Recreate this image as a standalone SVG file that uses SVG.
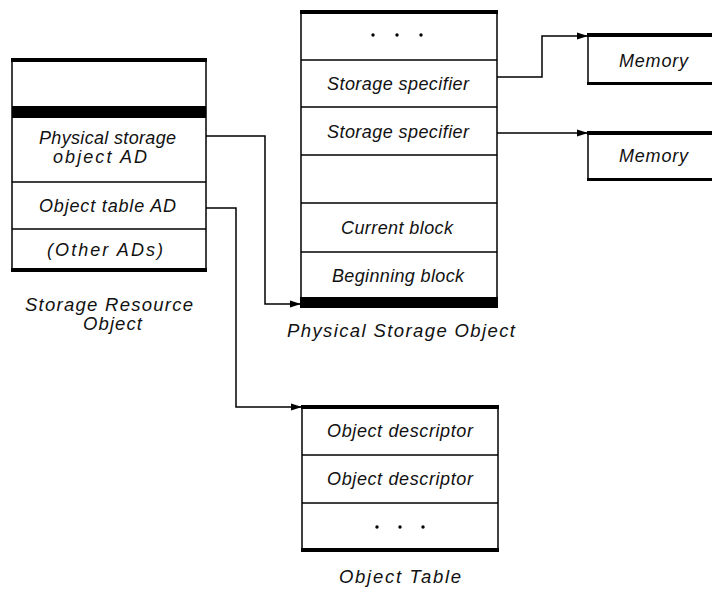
<svg xmlns="http://www.w3.org/2000/svg" width="712" height="589" viewBox="0 0 712 589">
<style>
.box{fill:#fff;stroke:#000;stroke-width:1.5}
.ln{stroke:#000;stroke-width:1.5;fill:none}
.bar{fill:#000}
.t{font-family:"Liberation Sans",Arial,sans-serif;font-style:italic;font-size:18px;fill:#111}
.lbl{font-family:"Liberation Sans",Arial,sans-serif;font-style:italic;font-size:18.5px;fill:#111}
.conn{stroke:#000;stroke-width:1.5;fill:none;marker-end:url(#arr)}
</style>
<defs>
<marker id="arr" markerUnits="userSpaceOnUse" markerWidth="11" markerHeight="8" refX="11" refY="4" orient="auto">
<path d="M0,0.5 L11,4 L0,7.5 z" fill="#000"/>
</marker>
</defs>
<rect width="712" height="589" fill="#fff"/>

<g id="storage-resource-object">
<rect class="box" x="12" y="60" width="194" height="210"/>
<rect class="bar" x="11" y="58" width="196" height="4"/>
<rect class="bar" x="12" y="106" width="194" height="12"/>
<line class="ln" x1="12" y1="182" x2="206" y2="182"/>
<line class="ln" x1="12" y1="229" x2="206" y2="229"/>
<rect class="bar" x="11" y="268" width="196" height="4"/>
<text class="t" x="39" y="144" textLength="137" lengthAdjust="spacing">Physical storage</text>
<text class="t" x="53" y="163" textLength="94" lengthAdjust="spacing">object AD</text>
<text class="t" x="39" y="212" textLength="137" lengthAdjust="spacing">Object table AD</text>
<text class="t" x="47" y="256" textLength="116" lengthAdjust="spacing">(Other ADs)</text>
<text class="lbl" x="25" y="311" textLength="168" lengthAdjust="spacing">Storage Resource</text>
<text class="lbl" x="83" y="330" textLength="59" lengthAdjust="spacing">Object</text>
</g>

<g id="physical-storage-object">
<rect class="box" x="301" y="12" width="196" height="292"/>
<rect class="bar" x="300" y="10" width="198" height="4"/>
<line class="ln" x1="301" y1="60" x2="497" y2="60"/>
<line class="ln" x1="301" y1="107" x2="497" y2="107"/>
<line class="ln" x1="301" y1="155" x2="497" y2="155"/>
<line class="ln" x1="301" y1="203" x2="497" y2="203"/>
<line class="ln" x1="301" y1="252" x2="497" y2="252"/>
<rect class="bar" x="300" y="297" width="198" height="11"/>
<circle cx="373" cy="35" r="1.7" fill="#000"/>
<circle cx="397" cy="35" r="1.7" fill="#000"/>
<circle cx="421" cy="35" r="1.7" fill="#000"/>
<text class="t" x="327" y="90" textLength="142" lengthAdjust="spacing">Storage specifier</text>
<text class="t" x="327" y="138" textLength="142" lengthAdjust="spacing">Storage specifier</text>
<text class="t" x="341" y="234" textLength="112" lengthAdjust="spacing">Current block</text>
<text class="t" x="332" y="282" textLength="132" lengthAdjust="spacing">Beginning block</text>
<text class="lbl" x="287" y="337" textLength="228" lengthAdjust="spacing">Physical Storage Object</text>
</g>

<g id="memory-1">
<line class="ln" x1="588" y1="35" x2="588" y2="84"/>
<rect class="bar" x="587" y="33" width="130" height="4"/>
<rect class="bar" x="587" y="82" width="130" height="3"/>
<text class="t" x="619" y="67" textLength="69" lengthAdjust="spacing">Memory</text>
</g>

<g id="memory-2">
<line class="ln" x1="588" y1="133" x2="588" y2="180"/>
<rect class="bar" x="587" y="131" width="130" height="4"/>
<rect class="bar" x="587" y="178" width="130" height="3"/>
<text class="t" x="619" y="162" textLength="69" lengthAdjust="spacing">Memory</text>
</g>

<g id="object-table">
<rect class="box" x="302" y="407" width="196" height="143"/>
<rect class="bar" x="301" y="405" width="198" height="4"/>
<line class="ln" x1="302" y1="455" x2="498" y2="455"/>
<line class="ln" x1="302" y1="503" x2="498" y2="503"/>
<rect class="bar" x="301" y="548" width="198" height="4"/>
<text class="t" x="327" y="437" textLength="146" lengthAdjust="spacing">Object descriptor</text>
<text class="t" x="327" y="485" textLength="146" lengthAdjust="spacing">Object descriptor</text>
<circle cx="377" cy="527" r="1.7" fill="#000"/>
<circle cx="400" cy="527" r="1.7" fill="#000"/>
<circle cx="423" cy="527" r="1.7" fill="#000"/>
<text class="lbl" x="339" y="583" textLength="122" lengthAdjust="spacing">Object Table</text>
</g>

<g id="connectors">
<path class="conn" d="M206,136 H265 V304 H301"/>
<path class="conn" d="M206,208 H236 V407 H302"/>
<path class="conn" d="M497,77 H542 V36 H588"/>
<path class="conn" d="M497,133 H588"/>
</g>
</svg>
